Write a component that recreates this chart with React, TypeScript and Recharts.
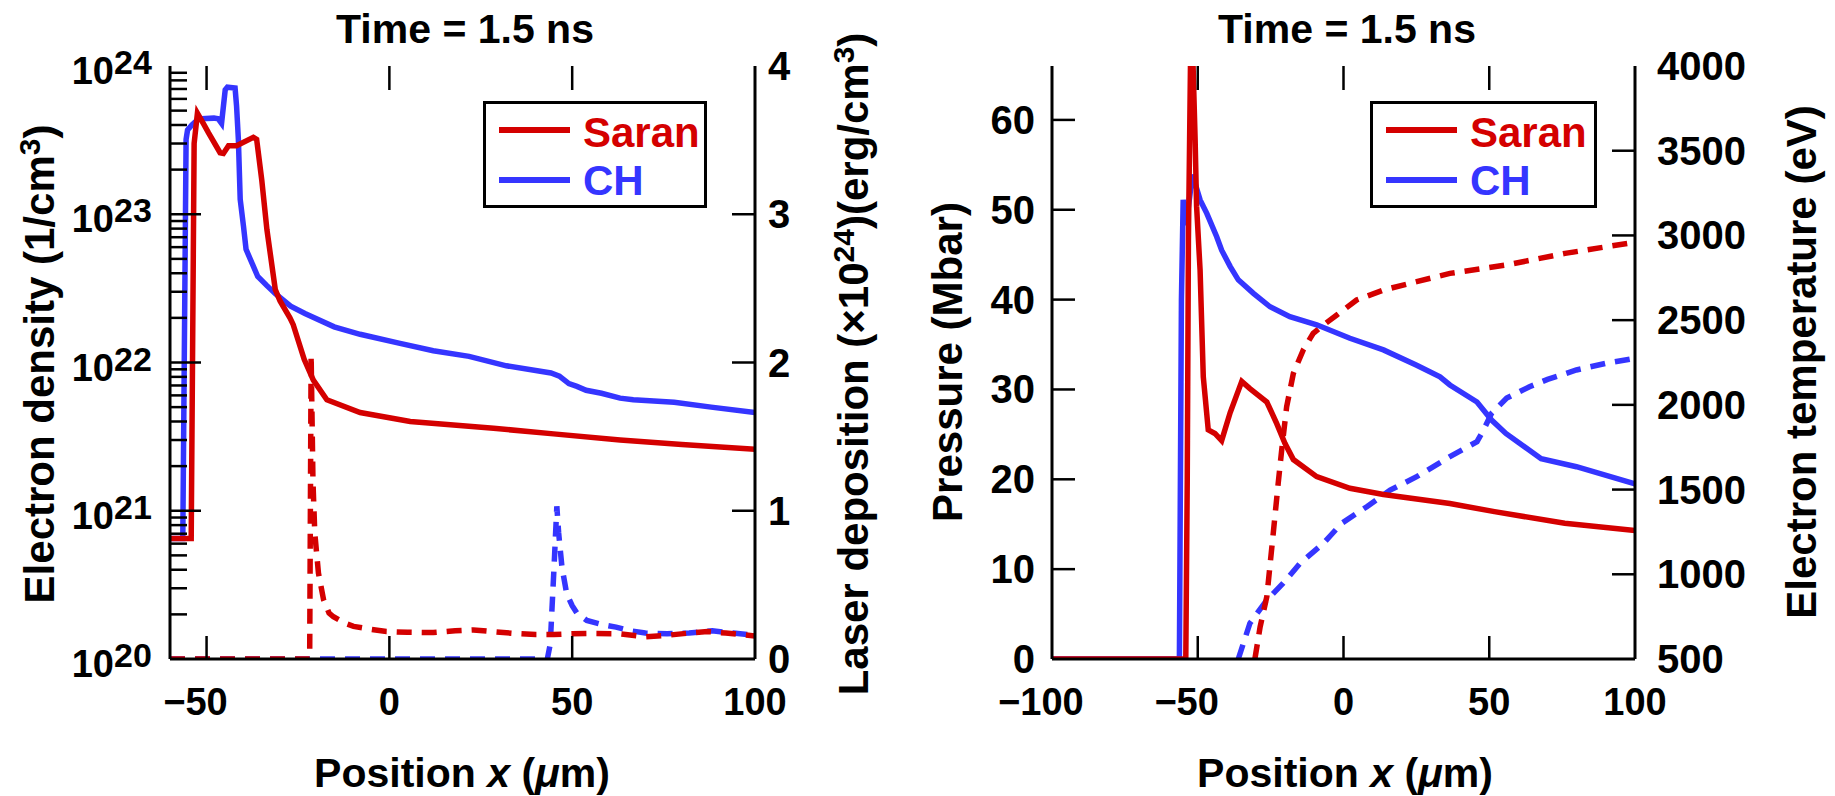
import React from "react";
import { LineChart, Line, XAxis, YAxis, Legend } from "recharts";

const RED = "#d40000";
const BLUE = "#3535ff";
const FONT = "'Liberation Sans', Arial, Helvetica, sans-serif";

// ---- left panel: electron density (log) + laser deposition ----
const chDensityX = [-60, -56.5, -55.6, -55.2, -54, -52.2, -48, -46.8, -45.9, -44.9, -44.3, -42.2, -41.8, -41.3, -40.8, -39.9, -39.2, -36, -33.5, -31.1, -27, -23.1, -15.1, -8, 2.6, 12, 21.8, 32, 44.2, 46.5, 49.1, 51.3, 53.8, 58, 63.1, 66.7, 77.9, 88, 100];
const chDensity = [6.5e20, 6.5e20, 3.2e23, 3.7e23, 4.0e23, 4.4e23, 4.45e23, 4.4e23, 4.1e23, 6.9e23, 7.2e23, 7.1e23, 5.4e23, 3.2e23, 1.26e23, 8.3e22, 5.8e22, 3.8e22, 3.3e22, 2.9e22, 2.4e22, 2.14e22, 1.74e22, 1.55e22, 1.35e22, 1.2e22, 1.1e22, 9.5e21, 8.5e21, 8.1e21, 7.2e21, 6.9e21, 6.5e21, 6.2e21, 5.75e21, 5.6e21, 5.4e21, 5.0e21, 4.6e21];

const saranDensityX = [-60, -54.2, -53.4, -52.5, -50.9, -49.5, -46.3, -45.4, -44, -41.8, -37.2, -36.3, -34.9, -33.5, -31.2, -29.9, -27.2, -26.3, -23.3, -20.8, -17.1, -8, 5.7, 28.5, 44.9, 63.1, 80, 100];
const saranDensity = [6.5e20, 6.5e20, 3.0e23, 4.8e23, 4.1e23, 3.55e23, 2.6e23, 2.57e23, 2.9e23, 2.9e23, 3.3e23, 3.2e23, 1.7e23, 7.9e22, 3.1e22, 2.6e22, 2.0e22, 1.8e22, 1.05e22, 7.6e21, 5.6e21, 4.6e21, 4.0e21, 3.6e21, 3.3e21, 3.0e21, 2.8e21, 2.6e21];

const saranLaserX = [-60, -21.8, -21.4, -20.9, -20.4, -19.4, -18, -16.5, -15.3, -12, -9.8, -5, -0.8, 5, 12, 18, 23, 28, 34, 40, 45, 50, 56, 63, 70, 76, 82, 87, 92, 100];
const saranLaser = [0, 0, 2.05, 1.2, 0.85, 0.58, 0.4, 0.31, 0.285, 0.24, 0.22, 0.2, 0.185, 0.18, 0.178, 0.19, 0.196, 0.185, 0.173, 0.165, 0.165, 0.17, 0.172, 0.17, 0.15, 0.16, 0.175, 0.185, 0.175, 0.155];

const chLaserX = [-60, 43.2, 44, 45, 45.8, 46.3, 47.2, 48.5, 50, 51.3, 54, 58.6, 62, 66, 70, 76, 82, 88.3, 94, 100];
const chLaser = [0, 0, 0.1, 0.6, 1.03, 0.85, 0.62, 0.44, 0.36, 0.31, 0.26, 0.23, 0.215, 0.19, 0.175, 0.17, 0.175, 0.19, 0.175, 0.16];

// ---- right panel: pressure + electron temperature ----
const chPressureX = [-100, -56.3, -55.6, -55, -54, -51.8, -49.2, -46.9, -43.5, -41.8, -38.9, -36.1, -30.9, -25.2, -18.4, -9.2, 2.2, 13.7, 25.1, 33.1, 36.5, 45.8, 50.8, 55.7, 67.8, 79.9, 100];
const chPressure = [0, 0, 40, 51.1, 48.3, 53.9, 51.1, 49.6, 47, 45.5, 43.7, 42.2, 40.7, 39.2, 38.1, 37.2, 35.7, 34.4, 32.7, 31.4, 30.5, 28.6, 26.6, 25.1, 22.3, 21.4, 19.5];

const saranPressureX = [-100, -54.1, -53.6, -53.2, -52.5, -51.6, -50.9, -50.4, -49.2, -48.1, -46.4, -44.1, -41.8, -38.9, -34.9, -32.1, -26.3, -22.9, -20.1, -17.2, -9.2, 2.2, 13.7, 36.5, 51.8, 75.9, 100];
const saranPressure = [0, 0, 20, 46.6, 66, 66, 57.8, 50.4, 43.3, 31.4, 25.5, 25.1, 24.3, 27.4, 30.9, 30.1, 28.6, 26.2, 24, 22.2, 20.3, 19, 18.3, 17.3, 16.4, 15.1, 14.3];

const saranTempX = [-30.4, -28.6, -26.3, -24.1, -22.4, -21.2, -19.5, -17.2, -13.8, -10.4, -6.9, -2.3, 4.5, 13.7, 25.1, 36.5, 55.7, 76, 100];
const saranTemp = [500, 690, 868, 1242, 1537, 1734, 1989, 2186, 2324, 2422, 2471, 2530, 2619, 2678, 2727, 2776, 2825, 2894, 2960];

const chTempX = [-36.1, -32.1, -26.3, -20.7, -14.9, -6.9, -0.6, 8, 16, 25.1, 36.5, 45.8, 48, 50.8, 56, 63.8, 70, 79.9, 90, 100];
const chTemp = [500, 711, 848, 947, 1065, 1183, 1301, 1399, 1497, 1576, 1694, 1783, 1850, 1950, 2040, 2107, 2150, 2206, 2245, 2275];

// ticks
const leftXTicks = [-50, 0, 50, 100];
const rightXTicks = [-100, -50, 0, 50, 100];
const densityDecades = [20, 21, 22, 23];
const densityTicks = [
  ...densityDecades.flatMap((e) => [1, 2, 3, 4, 5, 6, 7, 8, 9].map((k) => k * 10 ** e)),
  1e24,
];
const laserTicks = [0, 1, 2, 3, 4];
const pressureTicks = [0, 10, 20, 30, 40, 50, 60];
const tempTicks = [500, 1000, 1500, 2000, 2500, 3000, 3500, 4000];

const TITLE = "Time = 1.5 ns";

const pts = (xs: number[], ys: number[]) => xs.map((x, i) => ({ x, y: ys[i] }));

const TOP = 66;
const BOTTOM = 659;
const axisLine = { stroke: "#000", strokeWidth: 3 };
const dash = "15 10";
const LW = 5.5;

const xTick = (left: number, right: number) => (props: any) => {
  const { x, payload } = props;
  const v = payload.value as number;
  const digits = String(Math.abs(v)).length;
  const inner = Math.abs(x - left) > 2 && Math.abs(x - right) > 2;
  return (
    <g>
      {inner && (
        <>
          <line x1={x} x2={x} y1={BOTTOM} y2={BOTTOM - 23} stroke="#000" strokeWidth={2.5} />
          <line x1={x} x2={x} y1={TOP} y2={TOP + 24} stroke="#000" strokeWidth={2.5} />
        </>
      )}
      <text x={x + (digits * 0.556 * 38) / 2} y={715} textAnchor="end" fontSize={38} fontWeight="bold" fontFamily={FONT}>
        {v < 0 ? "\u2212" + Math.abs(v) : String(v)}
      </text>
    </g>
  );
};

const yTick = (axisX: number, dir: number, labelX: number, anchor: "start" | "end", edges: number[]) => (props: any) => {
  const { y, payload } = props;
  const v = payload.value as number;
  return (
    <g>
      {!edges.includes(v) && <line x1={axisX} x2={axisX + dir * 23} y1={y} y2={y} stroke="#000" strokeWidth={2.5} />}
      <text x={labelX} y={y + 14} textAnchor={anchor} fontSize={40} fontWeight="bold" fontFamily={FONT}>
        {v}
      </text>
    </g>
  );
};

const densityTick = (props: any) => {
  const { y, payload } = props;
  const v = payload.value as number;
  const e = Math.round(Math.log10(v));
  const major = Math.abs(Math.log10(v) - e) < 1e-6;
  const edge = v === 1e20 || v === 1e24;
  return (
    <g>
      {!edge && <line x1={170} x2={170 + (major ? 31 : 17)} y1={y} y2={y} stroke="#000" strokeWidth={2.5} />}
      {major && (
        <>
          <text x={114} y={y + 18} textAnchor="end" fontSize={38} fontWeight="bold" fontFamily={FONT}>10</text>
          <text x={114} y={y + 8} textAnchor="start" fontSize={34} fontWeight="bold" fontFamily={FONT}>{e}</text>
        </>
      )}
    </g>
  );
};

const vTitle = (x: number, y: number, content: React.ReactNode) => () => (
  <text transform={`translate(${x},${y}) rotate(-90)`} textAnchor="middle" fontSize={42} fontWeight="bold" fontFamily={FONT}>
    {content}
  </text>
);

// x axis title plus the panel title above the frame
const xTitles = (cx: number, titleX: number) => () => (
  <g>
    <text x={titleX} y={43} textAnchor="middle" fontSize={41} fontWeight="bold" fontFamily={FONT}>
      {TITLE}
    </text>
    <text x={cx} y={787} textAnchor="middle" fontSize={41} fontWeight="bold" fontFamily={FONT}>
      Position <tspan fontStyle="italic">x</tspan> (<tspan fontStyle="italic">{"\u03bc"}</tspan>m)
    </text>
  </g>
);

const LegendBox = ({ w }: { w: number }) => (
  <svg width={w} height={107} style={{ display: "block" }}>
    <rect x={1.5} y={1.5} width={w - 3} height={104} fill="#fff" stroke="#000" strokeWidth={3} />
    <line x1={16} x2={87} y1={29} y2={29} stroke={RED} strokeWidth={6} />
    <line x1={16} x2={87} y1={79} y2={79} stroke={BLUE} strokeWidth={6} />
    <text x={100} y={46} fontSize={42} fontWeight="bold" fontFamily={FONT} fill={RED}>Saran</text>
    <text x={100} y={94} fontSize={42} fontWeight="bold" fontFamily={FONT} fill={BLUE}>CH</text>
  </svg>
);

function DensityPanel() {
  return (
    <LineChart width={920} height={796} margin={{ top: TOP, right: 0, bottom: 0, left: 0 }}>
      <XAxis dataKey="x" type="number" domain={[-60, 100]} ticks={leftXTicks} interval={0} allowDataOverflow
        height={137} axisLine={axisLine} tickLine={false} tick={xTick(170, 755)}
        label={xTitles(462, 465)} />
      <XAxis xAxisId="top" orientation="top" dataKey="x" type="number" domain={[-60, 100]} height={0}
        axisLine={axisLine} tick={false} tickLine={false} />
      <YAxis yAxisId="n" scale="log" type="number" domain={[1e20, 1e24]} ticks={densityTicks} interval={0}
        allowDataOverflow width={170} axisLine={axisLine} tickLine={false} tick={densityTick}
        label={vTitle(54, 364, <>Electron density (1/cm<tspan dy={-14} fontSize={30}>3</tspan><tspan dy={14}>)</tspan></>)} />
      <YAxis yAxisId="l" orientation="right" type="number" domain={[0, 4]} ticks={laserTicks} interval={0}
        allowDataOverflow width={165} axisLine={axisLine} tickLine={false}
        tick={yTick(755, -1, 768, "start", [0, 4])}
        label={vTitle(868, 364, <>Laser deposition ({"\u00d7"}10<tspan dy={-14} fontSize={30}>24</tspan><tspan dy={14}>)(erg/cm</tspan><tspan dy={-14} fontSize={30}>3</tspan><tspan dy={14}>)</tspan></>)} />
      <Legend layout="horizontal" verticalAlign="middle" align="center" content={() => <LegendBox w={224} />}
        wrapperStyle={{ position: "absolute", left: 483, top: 101, width: 224, height: 107 }} />
      <Line yAxisId="l" data={pts(chLaserX, chLaser)} dataKey="y" stroke={BLUE} strokeWidth={LW} strokeDasharray={dash} dot={false} isAnimationActive={false} />
      <Line yAxisId="l" data={pts(saranLaserX, saranLaser)} dataKey="y" stroke={RED} strokeWidth={LW} strokeDasharray={dash} dot={false} isAnimationActive={false} />
      <Line yAxisId="n" data={pts(chDensityX, chDensity)} dataKey="y" stroke={BLUE} strokeWidth={LW} dot={false} isAnimationActive={false} />
      <Line yAxisId="n" data={pts(saranDensityX, saranDensity)} dataKey="y" stroke={RED} strokeWidth={LW} dot={false} isAnimationActive={false} />
    </LineChart>
  );
}

function PressurePanel() {
  return (
    <LineChart width={915} height={796} margin={{ top: TOP, right: 0, bottom: 0, left: 0 }}>
      <XAxis dataKey="x" type="number" domain={[-100, 100]} ticks={rightXTicks} interval={0} allowDataOverflow
        height={137} axisLine={axisLine} tickLine={false} tick={xTick(132, 715)}
        label={xTitles(425, 427)} />
      <XAxis xAxisId="top" orientation="top" dataKey="x" type="number" domain={[-100, 100]} height={0}
        axisLine={axisLine} tick={false} tickLine={false} />
      <YAxis yAxisId="p" type="number" domain={[0, 66]} ticks={pressureTicks} interval={0} allowDataOverflow
        width={132} axisLine={axisLine} tickLine={false} tick={yTick(132, 1, 115, "end", [0])}
        label={vTitle(42, 362, "Pressure (Mbar)")} />
      <YAxis yAxisId="t" orientation="right" type="number" domain={[500, 4000]} ticks={tempTicks} interval={0}
        allowDataOverflow width={200} axisLine={axisLine} tickLine={false}
        tick={yTick(715, -1, 737, "start", [500, 4000])}
        label={vTitle(896, 362, "Electron temperature (eV)")} />
      <Legend layout="horizontal" verticalAlign="middle" align="center" content={() => <LegendBox w={227} />}
        wrapperStyle={{ position: "absolute", left: 450, top: 101, width: 227, height: 107 }} />
      <Line yAxisId="t" data={pts(chTempX, chTemp)} dataKey="y" stroke={BLUE} strokeWidth={LW} strokeDasharray={dash} dot={false} isAnimationActive={false} />
      <Line yAxisId="t" data={pts(saranTempX, saranTemp)} dataKey="y" stroke={RED} strokeWidth={LW} strokeDasharray={dash} dot={false} isAnimationActive={false} />
      <Line yAxisId="p" data={pts(chPressureX, chPressure)} dataKey="y" stroke={BLUE} strokeWidth={LW} dot={false} isAnimationActive={false} />
      <Line yAxisId="p" data={pts(saranPressureX, saranPressure)} dataKey="y" stroke={RED} strokeWidth={LW} dot={false} isAnimationActive={false} />
    </LineChart>
  );
}

export default function App() {
  return (
    <div style={{ position: "absolute", left: 0, top: 0, width: 1835, height: 796, background: "#fff" }}>
      <div style={{ position: "absolute", left: 0, top: 0 }}>
        <DensityPanel />
      </div>
      <div style={{ position: "absolute", left: 920, top: 0 }}>
        <PressurePanel />
      </div>
    </div>
  );
}
